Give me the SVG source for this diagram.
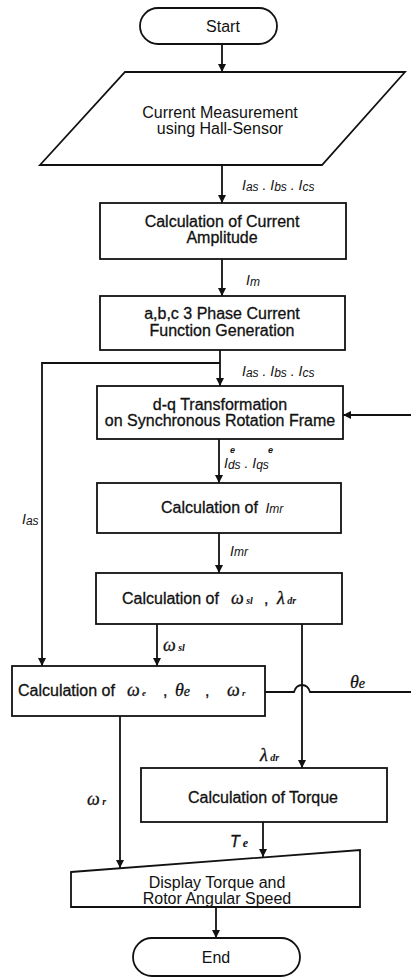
<svg xmlns="http://www.w3.org/2000/svg" width="411" height="979" viewBox="0 0 411 979">
<style>
.s{fill:#fff;stroke:#111;stroke-width:1.8}
.c{fill:none;stroke:#111;stroke-width:1.8}
.t{font-family:"Liberation Sans",Arial,sans-serif;font-size:16px;fill:#111;text-anchor:middle}
.tb{font-family:"Liberation Sans",Arial,sans-serif;font-size:16px;fill:#111;stroke:#111;stroke-width:0.3;text-anchor:middle}
.tl{font-family:"Liberation Sans",Arial,sans-serif;font-size:16px;fill:#111;stroke:#111;stroke-width:0.3}
.l{font-family:"Liberation Sans",Arial,sans-serif;font-size:14px;font-style:italic;fill:#111}
.sb{font-size:12px}
.g{font-family:"Liberation Serif","Times New Roman",serif;font-size:18px;font-style:italic;fill:#111;stroke:#111;stroke-width:0.3}
.gs{font-family:"Liberation Serif","Times New Roman",serif;font-size:10px;font-style:italic;font-weight:bold;fill:#111;stroke:none}
</style>
<defs>
<marker id="ar" markerWidth="8" markerHeight="8" refX="8" refY="4" orient="auto" markerUnits="userSpaceOnUse">
<path d="M0,0 L8,4 L0,8 z" fill="#111"/>
</marker>
</defs>
<rect width="411" height="979" fill="#fff"/>
<g id="connectors">
<path class="c" d="M222,44 V72" marker-end="url(#ar)"/>
<path class="c" d="M222,165 V203" marker-end="url(#ar)"/>
<path class="c" d="M222,259 V296" marker-end="url(#ar)"/>
<path class="c" d="M220,350 V386" marker-end="url(#ar)"/>
<path class="c" d="M220,363 H42 V666" marker-end="url(#ar)"/>
<path class="c" d="M412,415 H343" marker-end="url(#ar)"/>
<path class="c" d="M219,439 V483" marker-end="url(#ar)"/>
<path class="c" d="M219,533 V573" marker-end="url(#ar)"/>
<path class="c" d="M157,624 V666" marker-end="url(#ar)"/>
<path class="c" d="M302,624 V768" marker-end="url(#ar)"/>
<path class="c" d="M265,692 H294 Q296,685 302,685 Q308,685 310,692 H412"/>
<path class="c" d="M120,716 V868" marker-end="url(#ar)"/>
<path class="c" d="M263,822 V857" marker-end="url(#ar)"/>
<path class="c" d="M216,907 V938" marker-end="url(#ar)"/>
<text class="l" x="242" y="190">I<tspan class="sb" dy="1">as</tspan><tspan dy="-1"> . I</tspan><tspan class="sb" dy="1">bs</tspan><tspan dy="-1"> . I</tspan><tspan class="sb" dy="1">cs</tspan></text>
<text class="l" x="246" y="285">I<tspan class="sb" dy="1">m</tspan></text>
<text class="l" x="242" y="376">I<tspan class="sb" dy="1">as</tspan><tspan dy="-1"> . I</tspan><tspan class="sb" dy="1">bs</tspan><tspan dy="-1"> . I</tspan><tspan class="sb" dy="1">cs</tspan></text>
<text class="l" x="224" y="468">I<tspan class="sb" dy="1">ds</tspan><tspan dy="-1"> . I</tspan><tspan class="sb" dy="1">qs</tspan></text>
<text class="l" x="230" y="453" style="font-size:9px;font-weight:bold">e</text>
<text class="l" x="268" y="453" style="font-size:9px;font-weight:bold">e</text>
<text class="l" x="22" y="524">I<tspan class="sb" dy="1">as</tspan></text>
<text class="l" x="230" y="556">I<tspan class="sb">mr</tspan></text>
<text class="g" x="163" y="651">ω<tspan class="gs"> sl</tspan></text>
<text class="g" x="350" y="688">θ<tspan class="g" style="font-size:14px">e</tspan></text>
<text class="g" x="260" y="761">λ<tspan class="gs"> dr</tspan></text>
<text class="g" x="87" y="805">ω<tspan class="gs"> r</tspan></text>
<text class="g" x="230" y="847" style="font-family:'Liberation Sans',Arial,sans-serif;font-size:16px">T<tspan class="gs" style="font-size:12px"> e</tspan></text>
</g>
<g id="start">
<rect class="s" x="140" y="8" width="137" height="36" rx="18"/>
<text class="t" x="223" y="32">Start</text>
</g>
<g id="measure">
<path class="s" d="M125,72 H405 L322,165 H40 Z"/>
<text class="t" x="220" y="118">Current Measurement</text>
<text class="t" x="220" y="134">using Hall-Sensor</text>
</g>
<g id="amplitude">
<rect class="s" x="100" y="203" width="246" height="56"/>
<text class="tb" x="222" y="227">Calculation of Current</text>
<text class="tb" x="222" y="243">Amplitude</text>
</g>
<g id="abc">
<rect class="s" x="100" y="296" width="245" height="54"/>
<text class="tb" x="222" y="319">a,b,c 3 Phase Current</text>
<text class="tb" x="222" y="336">Function Generation</text>
</g>
<g id="dq">
<rect class="s" x="97" y="386" width="246" height="53"/>
<text class="tb" x="220" y="410">d-q Transformation</text>
<text class="tb" x="220" y="426">on Synchronous Rotation Frame</text>
</g>
<g id="imr">
<rect class="s" x="97" y="483" width="244" height="50"/>
<text class="tl" x="161" y="513">Calculation of <tspan class="l" style="stroke:none" dx="3">I<tspan class="sb">mr</tspan></tspan></text>
</g>
<g id="wsl">
<rect class="s" x="96" y="573" width="246" height="51"/>
<text class="tl" x="122" y="604">Calculation of</text>
<text class="g" x="231" y="604">ω<tspan class="gs"> sl</tspan></text>
<text class="tl" x="264" y="604">,</text>
<text class="g" x="277" y="604">λ<tspan class="gs"> dr</tspan></text>
</g>
<g id="omega">
<rect class="s" x="12" y="666" width="253" height="50"/>
<text class="tl" x="18" y="696">Calculation of</text>
<text class="g" x="127" y="696">ω<tspan class="gs" style="font-size:9px"> e</tspan></text>
<text class="tl" x="163" y="696">,</text>
<text class="g" x="175" y="696">θ<tspan style="font-size:14px">e</tspan></text>
<text class="tl" x="205" y="696">,</text>
<text class="g" x="227" y="696">ω<tspan class="gs" style="font-size:9px"> r</tspan></text>
</g>
<g id="torque">
<rect class="s" x="141" y="768" width="246" height="54"/>
<text class="tb" x="263" y="803">Calculation of Torque</text>
</g>
<g id="display">
<path class="s" d="M71,872 L360,850 V907 H71 Z"/>
<text class="t" x="217" y="888">Display Torque and</text>
<text class="t" x="217" y="904">Rotor Angular Speed</text>
</g>
<g id="end">
<rect class="s" x="133" y="938" width="167" height="38" rx="19"/>
<text class="t" x="216" y="963">End</text>
</g>
</svg>
